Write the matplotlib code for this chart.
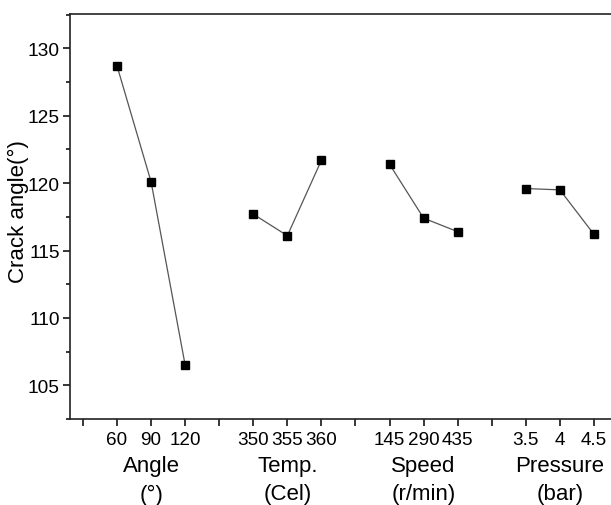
import matplotlib
matplotlib.use("Agg")
import matplotlib.pyplot as plt
from matplotlib.ticker import MultipleLocator, FixedLocator

plt.rcParams['font.family'] = ['Liberation Sans', 'DejaVu Sans']

factor_names = ["Angle", "Temp.", "Speed", "Pressure"]
factor_units = ["(°)", "(Cel)", "(r/min)", "(bar)"]
levels = [["60", "90", "120"], ["350", "355", "360"], ["145", "290", "435"], ["3.5", "4", "4.5"]]
means = [[128.7, 120.1, 106.5],
         [117.7, 116.1, 121.7],
         [121.4, 117.4, 116.4],
         [119.6, 119.5, 116.2]]

FS_TICK = 13.6
FS_TITLE = 16
fig = plt.figure(figsize=(6.11, 5.06), dpi=100)
ax = fig.add_axes([70/611, 1-420/506, 1-70/611, (420-15)/506])

tick_pos = []
tick_lab = []
for g, (name, unit, labs, vals) in enumerate(zip(factor_names, factor_units, levels, means)):
    xs = [4*g + 1 + i for i in range(3)]
    ax.plot(xs, vals, color='#555555', lw=0.9, marker='s', ms=6.3,
            mfc='black', mec='black', zorder=3)
    tick_pos += xs
    tick_lab += labs
    ax.annotate(name, xy=(4*g + 2, 0), xycoords=('data', 'axes fraction'),
                xytext=(0, -47*0.72), textcoords='offset points',
                ha='center', va='center', fontsize=FS_TITLE)
    ax.annotate(unit, xy=(4*g + 2, 0), xycoords=('data', 'axes fraction'),
                xytext=(0, -75*0.72), textcoords='offset points',
                ha='center', va='center', fontsize=FS_TITLE)

ax.set_xlim(-0.38, 15.5)
ax.set_ylim(102.5, 132.55)
ax.set_xticks(tick_pos)
ax.set_xticklabels(tick_lab, fontsize=FS_TICK)
ax.xaxis.set_minor_locator(FixedLocator([0, 4, 8, 12]))
ax.tick_params(axis='x', which='both', direction='out', length=5, width=1.1, pad=3.5)

ax.yaxis.set_major_locator(MultipleLocator(5))
ax.yaxis.set_minor_locator(MultipleLocator(2.5))
ax.tick_params(axis='y', which='major', direction='out', length=5, width=1.1,
               labelsize=13.8, pad=2.5)
ax.tick_params(axis='y', which='minor', direction='out', length=3, width=1.1)
ax.set_ylabel("Crack angle(°)", fontsize=16)
ax.yaxis.set_label_coords(-41/541, 0.514)

for s in ['left', 'bottom', 'top']:
    ax.spines[s].set_linewidth(1.2)
    ax.spines[s].set_color('#222222')
ax.spines['right'].set_visible(False)

fig.savefig("out.png", dpi=100)
